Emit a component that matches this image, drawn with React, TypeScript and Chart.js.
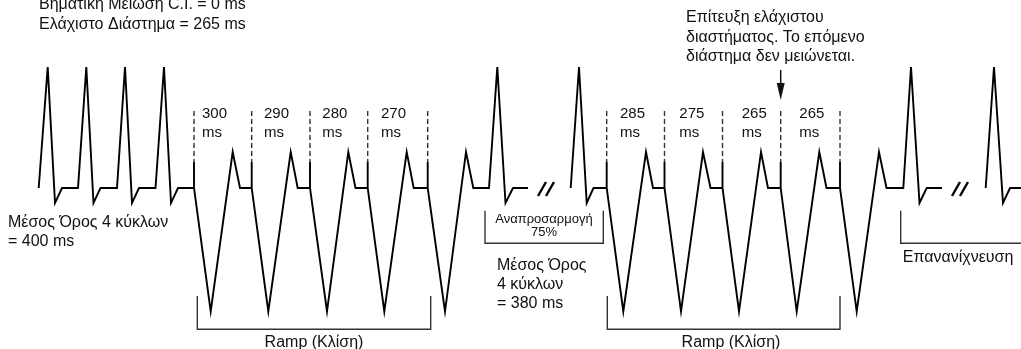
import React, { useEffect, useRef } from "react";
import { Chart, registerables } from "chart.js";

Chart.register(...registerables);

// Waveform vertices (x in drawing units, amplitude above baseline); null = break
const waveX: number[] = [
  38.7, 47.7, 55, 62, 78,
  86.3, 93.5, 100.5, 117,
  125, 132, 139, 155.5,
  164, 171, 178, 194,
  194, 194, 210.7, 232.7, 240, 251.7,
  251.7, 251.7, 268.3, 290.7, 297.7, 310,
  310, 310, 327, 348.3, 355.5, 367.7,
  367.7, 367.7, 384.3, 406.7, 413.7, 427.7,
  427.7, 427.7, 445, 466, 473.3, 489,
  497.3, 505.5, 513, 528,
  550,
  570.7, 579, 586.7, 593.5, 606.7,
  606.7, 606.7, 623.3, 646, 653, 664.5,
  664.5, 664.5, 681, 703, 710.5, 722.5,
  722.5, 722.5, 739, 761, 768, 780.7,
  780.7, 780.7, 796.7, 819.3, 826.5, 840,
  840, 840, 856.7, 879, 886.5, 903.3,
  911, 919.5, 926.7, 942,
  965,
  985.7, 994, 1003, 1010, 1021,
];
const waveY: (number | null)[] = [
  0, 121, -15, 0, 0,
  121, -15, 0, 0,
  121, -15, 0, 0,
  121, -15, 0, 0,
  26, 0, -123.5, 36, 0, 0,
  26, 0, -123.5, 36, 0, 0,
  26, 0, -123.5, 36, 0, 0,
  26, 0, -123.5, 36, 0, 0,
  26, 0, -123.5, 36, 0, 0,
  121, -15, 0, 0,
  null,
  0, 121, -15, 0, 0,
  26, 0, -123.5, 36, 0, 0,
  26, 0, -123.5, 36, 0, 0,
  26, 0, -123.5, 36, 0, 0,
  26, 0, -123.5, 36, 0, 0,
  26, 0, -123.5, 36, 0, 0,
  121, -15, 0, 0,
  null,
  0, 121, -15, 0, 0,
];

// Pacing stimuli (ramp spikes)
const rampSpikes: number[] = [194, 251.7, 310, 367.7, 427.7, 606.7, 664.5, 722.5, 780.7, 840];
// Coupling interval labels (ms)
const intervalLabels: string[] = ["300", "290", "280", "270", "285", "275", "265", "265"];
const intervalUnit = "ms";

const topLeftLines = ["Βηματική Μείωση C.I. = 0 ms", "Ελάχιστο Διάστημα = 265 ms"];
const avg1Lines = ["Μέσος Όρος 4 κύκλων", "= 400 ms"];
const avg2Lines = ["Μέσος Όρος", "4 κύκλων", "= 380 ms"];
const minNoteLines = ["Επίτευξη ελάχιστου", "διαστήματος. Το επόμενο", "διάστημα δεν μειώνεται."];
const adaptLines = ["Αναπροσαρμογή", "75%"];
const rampLabel = "Ramp (Κλίση)";
const redetectLabel = "Επανανίχνευση";

const BASE = 188; // baseline pixel row
const FONT = '"Liberation Sans", Arial, sans-serif';

const A = (y: number) => BASE - y; // convert page row to amplitude units

const labelXs = [202, 264, 322.3, 381, 620, 679.3, 741.7, 799.3];

function bracket(x1: number, x2: number, yTop: number, yBot: number, openRight = false) {
  const pts = [
    { x: x1, y: A(yTop) },
    { x: x1, y: A(yBot) },
    { x: x2, y: A(yBot) },
  ];
  if (!openRight) pts.push({ x: x2, y: A(yTop) });
  return pts;
}

const textPlugin = {
  id: "annotText",
  afterDatasetsDraw(chart: any) {
    const { ctx, scales } = chart;
    const xs = scales.x;
    const ys = scales.y;
    const px = (x: number) => xs.getPixelForValue(x);
    const py = (y: number) => ys.getPixelForValue(A(y));
    ctx.save();
    ctx.fillStyle = "#111";
    ctx.textBaseline = "alphabetic";
    const put = (lines: string[], x: number, y0: number, lh: number, size: number, align: CanvasTextAlign = "left") => {
      ctx.font = `${size}px ${FONT}`;
      ctx.textAlign = align;
      lines.forEach((l, i) => ctx.fillText(l, px(x), py(y0 + i * lh)));
    };
    put(topLeftLines, 39, 9, 20, 16);
    put(avg1Lines, 8, 227, 19, 16);
    put(avg2Lines, 497, 270, 19, 16);
    put(minNoteLines, 686, 22, 19.5, 16);
    put(adaptLines, 544, 223, 12.5, 13, "center");
    put([rampLabel], 314, 347, 0, 16, "center");
    put([rampLabel], 731, 347, 0, 16, "center");
    put([redetectLabel], 958, 261.5, 0, 16, "center");
    intervalLabels.forEach((t, i) => {
      put([t, intervalUnit], labelXs[i], 117.7, 19.5, 15);
    });
    // arrow
    const ax = px(780.7);
    ctx.strokeStyle = "#111";
    ctx.lineWidth = 1.5;
    ctx.beginPath();
    ctx.moveTo(ax, py(70));
    ctx.lineTo(ax, py(86));
    ctx.stroke();
    ctx.beginPath();
    ctx.moveTo(ax - 4, py(83));
    ctx.lineTo(ax + 4, py(83));
    ctx.lineTo(ax, py(100));
    ctx.closePath();
    ctx.fill();
    ctx.restore();
  },
};

export default function App() {
  const ref = useRef<HTMLCanvasElement | null>(null);
  useEffect(() => {
    if (!ref.current) return;
    const wave = waveX.map((x, i) => ({ x, y: waveY[i] }));
    const datasets: any[] = [
      {
        data: wave,
        borderColor: "#000",
        borderWidth: 1.9,
        pointRadius: 0,
        spanGaps: false,
        tension: 0,
        fill: false,
      },
    ];
    rampSpikes.forEach((s) => {
      datasets.push({
        data: [{ x: s, y: A(111) }, { x: s, y: A(162) }],
        borderColor: "#333",
        borderWidth: 1.4,
        borderDash: [5, 3],
        pointRadius: 0,
        fill: false,
      });
    });
    const brackets = [
      bracket(197.3, 430.7, 296, 329.3),
      bracket(607.3, 840, 296, 329.3),
      bracket(485, 603.3, 210.7, 243.3),
      bracket(900.7, 1022, 210.7, 243.3, true),
    ];
    brackets.forEach((b) =>
      datasets.push({ data: b, borderColor: "#333", borderWidth: 1.4, pointRadius: 0, fill: false })
    );
    const breaks = [
      [{ x: 538, y: A(196) }, { x: 546, y: A(182) }],
      [{ x: 546, y: A(196) }, { x: 554, y: A(182) }],
      [{ x: 952, y: A(196) }, { x: 960, y: A(182) }],
      [{ x: 960, y: A(196) }, { x: 968, y: A(182) }],
    ];
    breaks.forEach((b) =>
      datasets.push({ data: b, borderColor: "#000", borderWidth: 2.4, pointRadius: 0, fill: false })
    );
    const chart = new Chart(ref.current, {
      type: "line",
      data: { datasets },
      options: {
        animation: false,
        responsive: false,
        devicePixelRatio: 1,
        layout: { padding: 0 },
        parsing: false,
        normalized: true,
        scales: {
          x: { type: "linear", min: 0, max: 1021, display: false },
          y: { type: "linear", min: BASE - 349, max: BASE, display: false },
        },
        plugins: { legend: { display: false }, tooltip: { enabled: false } },
        events: [],
      } as any,
      plugins: [textPlugin],
    });
    return () => chart.destroy();
  }, []);
  return (
    <div style={{ position: "absolute", left: 0, top: 0, width: 1021, height: 349, background: "#fff" }}>
      <canvas ref={ref} width={1021} height={349} style={{ display: "block" }} />
    </div>
  );
}
